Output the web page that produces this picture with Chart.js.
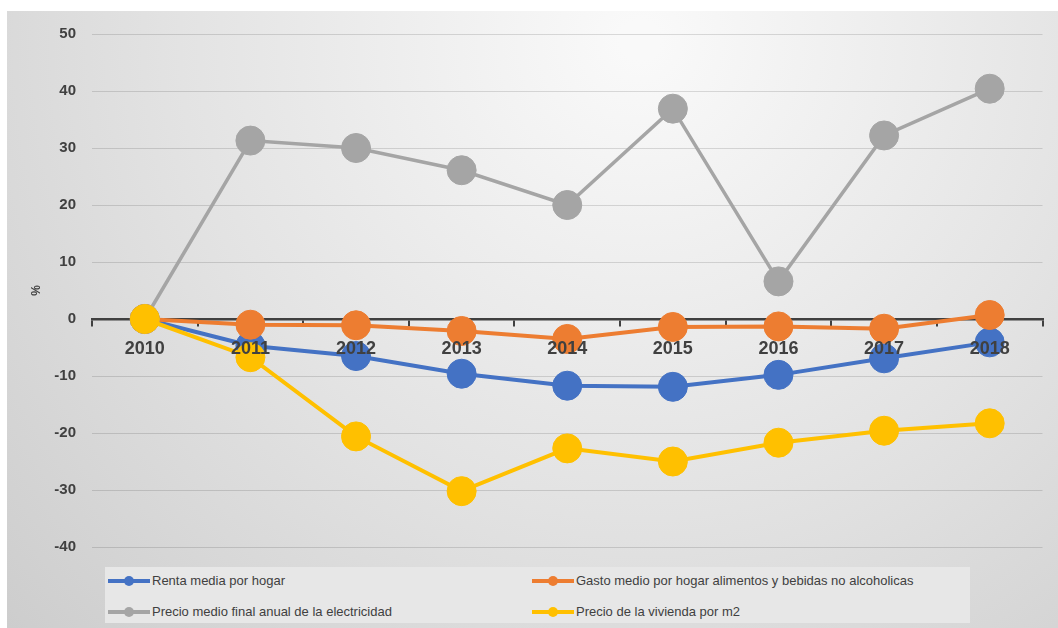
<!DOCTYPE html>
<html>
<head>
<meta charset="utf-8">
<script src="https://cdn.jsdelivr.net/npm/chart.js@4/dist/chart.umd.min.js"></script>
<style>
  html, body { margin: 0; padding: 0; background: #ffffff; }
  #wrap { position: relative; width: 1058px; height: 628px; }
  #legend {
    position: absolute; left: 105px; top: 567px; width: 865px; height: 56px;
    background: #e7e7e7; font-family: "Liberation Sans", Arial, sans-serif;
    font-size: 13px; color: #404040;
  }
  .item { position: absolute; height: 16px; line-height: 16px; white-space: nowrap; }
  .mark { position: absolute; left: 0; top: 6px; width: 42px; height: 4px; }
  .mark span { position: absolute; left: 16px; top: -3px; width: 10px; height: 10px; border-radius: 50%; }
  .item .txt { position: absolute; left: 44px; top: 0; }
</style>
</head>
<body>
<div id="wrap">
  <canvas id="chart" width="1058" height="628"></canvas>
  <div id="legend"></div>
</div>
<script>
// años
const years = ['2010', '2011', '2012', '2013', '2014', '2015', '2016', '2017', '2018'];

// variación % respecto a 2010
const renta = [0, -4.7, -6.5, -9.6, -11.7, -11.9, -9.8, -6.9, -4.1];
const gasto = [0, -1.0, -1.1, -2.1, -3.5, -1.4, -1.3, -1.7, 0.7];
const electricidad = [0, 31.3, 30.0, 26.1, 20.0, 36.9, 6.6, 32.2, 40.4];
const vivienda = [0, -6.7, -20.6, -30.2, -22.7, -25.0, -21.7, -19.6, -18.3];

const yTicks = [-40, -30, -20, -10, 0, 10, 20, 30, 40, 50];

const seriesNames = [
    'Renta media por hogar',
    'Gasto medio por hogar alimentos y bebidas no alcoholicas',
    'Precio medio final anual de la electricidad',
    'Precio de la vivienda por m2'
];
const colors = ['#4472C4', '#ED7D31', '#A5A5A5', '#FFC000'];

// fondo gris con degradado, margen blanco arriba e izquierda
const backgroundPlugin = {
    id: 'fondo',
    beforeDraw: (chart) => {
        const {ctx, width, height} = chart;
        ctx.save();
        ctx.fillStyle = '#ffffff';
        ctx.fillRect(0, 0, width, height);
        const g = ctx.createRadialGradient(640, 40, 20, 640, 40, 900);
        g.addColorStop(0, '#f9f9f9');
        g.addColorStop(0.5, '#e3e3e3');
        g.addColorStop(1, '#cbcbcb');
        ctx.fillStyle = g;
        ctx.fillRect(7, 11, width - 7, height - 11);
        ctx.restore();
    }
};

function makeSet(i, data, order, bw) {
    return {
        label: seriesNames[i],
        data: data,
        borderColor: colors[i],
        backgroundColor: colors[i],
        pointBackgroundColor: colors[i],
        pointBorderColor: colors[i],
        borderWidth: bw,
        pointRadius: 14.5,
        pointHoverRadius: 14.5,
        pointBorderWidth: 1,
        tension: 0,
        fill: false,
        order: order
    };
}

const ctx = document.getElementById('chart').getContext('2d');
const chart = new Chart(ctx, {
    type: 'line',
    data: {
        labels: years,
        datasets: [
            makeSet(0, renta, 4, 4),
            makeSet(1, gasto, 3, 4),
            makeSet(2, electricidad, 2, 3.5),
            makeSet(3, vivienda, 1, 4)
        ]
    },
    options: {
        responsive: false,
        animation: false,
        layout: { padding: { left: 20, top: 34, right: 8, bottom: 81 } },
        plugins: {
            legend: { display: false },
            tooltip: { enabled: false }
        },
        scales: {
            // eje de categorías en y = 0; las etiquetas van por encima de las series
            x: {
                position: { y: 0 },
                offset: true,
                grid: { drawOnChartArea: false, drawTicks: true, tickLength: 6, color: '#404040', lineWidth: 2, offset: true },
                border: { color: '#404040', width: 2.5 },
                ticks: {
                    z: 1,
                    color: '#404040', padding: 13,
                    font: { family: 'Liberation Sans', size: 18, weight: 'bold' }
                }
            },
            y: {
                min: -40,
                max: 50,
                afterBuildTicks: (scale) => { scale.ticks = yTicks.map(v => ({ value: v })); },
                afterFit: (scale) => { scale.width = 72; },
                grid: { drawTicks: false, color: 'rgba(0,0,0,0.13)', lineWidth: 1 },
                border: { display: false },
                ticks: {
                    color: '#404040', padding: 16,
                    font: { family: 'Liberation Sans', size: 15, weight: 'bold' }
                },
                title: {
                    display: true, text: '%', color: '#404040',
                    padding: { top: 9, bottom: 0 },
                    font: { family: 'Liberation Sans', size: 12, weight: 'bold' }
                }
            }
        }
    },
    plugins: [backgroundPlugin]
});

// leyenda en dos columnas
const legend = document.getElementById('legend');
const legendPos = [[3, 6], [427, 6], [3, 37], [427, 37]];
const legendOrder = [0, 1, 2, 3];
legendOrder.forEach((i, k) => {
    const item = document.createElement('div');
    item.className = 'item';
    item.style.left = legendPos[k][0] + 'px';
    item.style.top = legendPos[k][1] + 'px';
    item.innerHTML = '<div class="mark" style="background:' + colors[i] + '"><span style="background:' + colors[i] + '"></span></div>' +
        '<span class="txt">' + seriesNames[i] + '</span>';
    legend.appendChild(item);
});
</script>
</body>
</html>
